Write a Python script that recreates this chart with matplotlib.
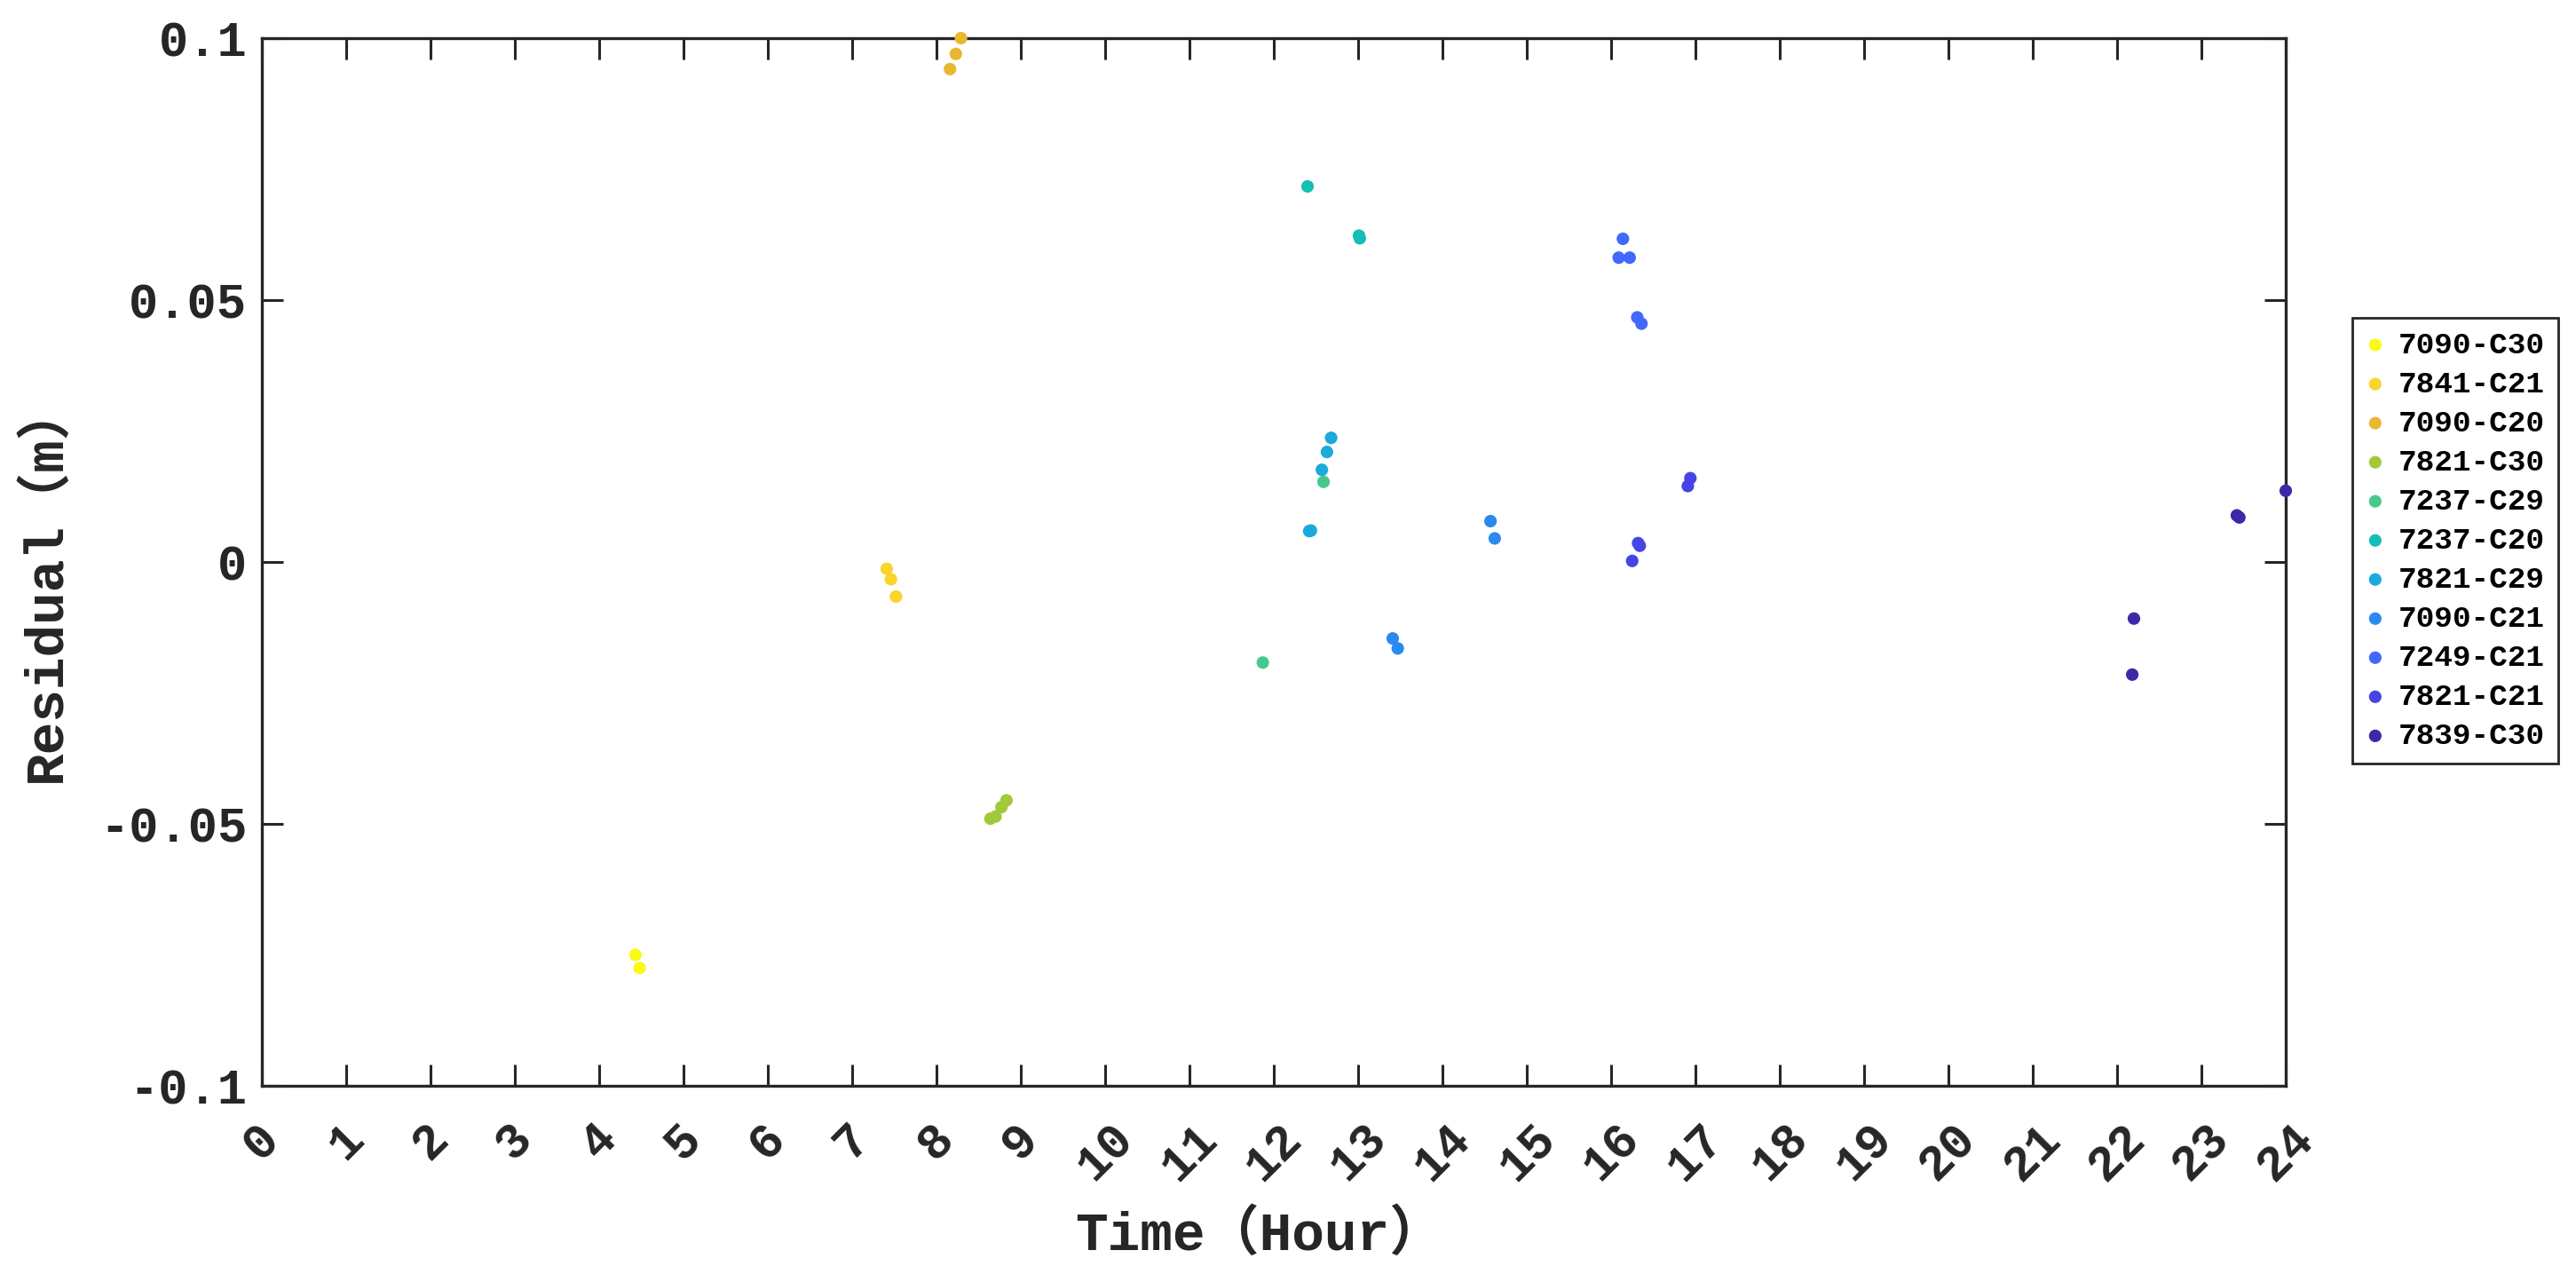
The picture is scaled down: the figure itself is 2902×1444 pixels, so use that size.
import numpy as np
import matplotlib
matplotlib.use("Agg")
import matplotlib.pyplot as plt

plt.rcParams['font.family'] = ['Liberation Mono', 'Noto Sans CJK SC', 'DejaVu Sans']

# --- data ---
labels = ['7090-C30', '7841-C21', '7090-C20', '7821-C30', '7237-C29', '7237-C20',
          '7821-C29', '7090-C21', '7249-C21', '7821-C21', '7839-C30']
colors = ['#F9FB14', '#F8D42C', '#E8B830', '#A2C93A', '#45C98B', '#14BFB6',
          '#1AAADC', '#2A8AF0', '#4368FD', '#4744E6', '#3F28A8']

x_7090_c30 = [4.43, 4.48]
y_7090_c30 = [-0.0750, -0.0775]
x_7841_c21 = [7.41, 7.46, 7.52]
y_7841_c21 = [-0.0013, -0.0033, -0.0066]
x_7090_c20 = [8.16, 8.23, 8.29]
y_7090_c20 = [0.0941, 0.0970, 0.1000]
x_7821_c30 = [8.64, 8.70, 8.77, 8.83]
y_7821_c30 = [-0.0490, -0.0486, -0.0468, -0.0455]
x_7237_c29 = [11.87, 12.59]
y_7237_c29 = [-0.0192, 0.0153]
x_7237_c20 = [12.40, 13.01, 13.02]
y_7237_c20 = [0.0717, 0.0623, 0.0618]
x_7821_c29 = [12.42, 12.44, 12.57, 12.63, 12.68]
y_7821_c29 = [0.0059, 0.0060, 0.0176, 0.0210, 0.0237]
x_7090_c21 = [13.41, 13.47, 14.57, 14.62]
y_7090_c21 = [-0.0146, -0.0165, 0.0078, 0.0045]
x_7249_c21 = [16.09, 16.14, 16.22, 16.31, 16.36]
y_7249_c21 = [0.0581, 0.0617, 0.0581, 0.0467, 0.0455]
x_7821_c21 = [16.25, 16.32, 16.34, 16.91, 16.94]
y_7821_c21 = [0.0002, 0.0036, 0.0031, 0.0145, 0.0160]
x_7839_c30 = [22.18, 22.20, 23.42, 23.45, 24.00]
y_7839_c30 = [-0.0215, -0.0108, 0.0089, 0.0085, 0.0136]

xs = [x_7090_c30, x_7841_c21, x_7090_c20, x_7821_c30, x_7237_c29, x_7237_c20,
      x_7821_c29, x_7090_c21, x_7249_c21, x_7821_c21, x_7839_c30]
ys = [y_7090_c30, y_7841_c21, y_7090_c20, y_7821_c30, y_7237_c29, y_7237_c20,
      y_7821_c29, y_7090_c21, y_7249_c21, y_7821_c21, y_7839_c30]

x_ticks = list(range(0, 25))
y_ticks = [-0.1, -0.05, 0, 0.05, 0.1]
y_ticklabels = ['-0.1', '-0.05', '0', '0.05', '0.1']

ink = '#262626'

fig = plt.figure(figsize=(14.51, 7.22), dpi=200)
ax = fig.add_axes([295 / 2902, 1 - 1223 / 1444, 2280 / 2902, 1180 / 1444])

for x, y, c, lab in zip(xs, ys, colors, labels):
    ax.scatter(x, y, s=26, color=c, edgecolors='none', label=lab,
               clip_on=False, zorder=3)

ax.set_xlim(0, 24)
ax.set_ylim(-0.1, 0.1)
ax.set_xticks(x_ticks)
ax.set_xticklabels([str(t) for t in x_ticks], rotation=45, ha='center')
ax.set_yticks(y_ticks)
ax.set_yticklabels(y_ticklabels)

ax.tick_params(axis='both', direction='in', length=8.6, width=1.1, color=ink,
               labelcolor=ink, labelsize=20, top=True, right=True)
ax.tick_params(axis='x', pad=12)
ax.tick_params(axis='y', pad=6)
for lab in ax.get_xticklabels() + ax.get_yticklabels():
    lab.set_fontweight('bold')
for sp in ax.spines.values():
    sp.set_linewidth(1.2)
    sp.set_color(ink)

ax.set_xlabel('Time（Hour）', fontsize=22, fontweight='bold', color=ink)
ax.set_ylabel('Residual（m）', fontsize=22, fontweight='bold', color=ink)
ax.xaxis.set_label_coords(0.493, -0.118)
ax.yaxis.set_label_coords(-0.094, 0.481)

leg = ax.legend(loc='upper left', bbox_to_anchor=(2650 / 2902, 1 - 358 / 1444),
                bbox_transform=fig.transFigure, frameon=True,
                fancybox=False, framealpha=1, borderaxespad=0, borderpad=0.45,
                labelspacing=0.375, handlelength=0.6, handletextpad=0.45,
                prop={'family': ['Liberation Mono'], 'weight': 'bold', 'size': 12.4})
leg.get_frame().set_edgecolor(ink)
leg.get_frame().set_linewidth(1.0)

fig.savefig('out.png', dpi=200)
